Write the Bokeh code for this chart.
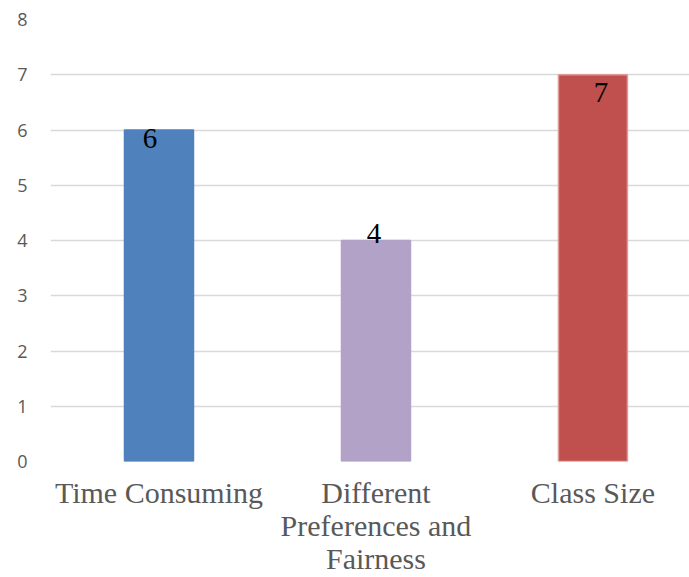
from bokeh.plotting import figure
from bokeh.models import Range1d, FixedTicker, ColumnDataSource
from bokeh.core.properties import value
from bokeh.embed import file_html
from bokeh.resources import INLINE

categories = ["Time Consuming", "Different\nPreferences and\nFairness", "Class Size"]
counts = [6, 4, 7]
colors = ["#4F81BD", "#B3A2C7", "#C0504D"]
outline_colors = ["#4F81BD", "#B3A2C7", "#E09A98"]
y_ticks = [0, 1, 2, 3, 4, 5, 6, 7, 8]

# label offsets (style only)
label_dx = [-9, -2, 8]
label_dy = [8, -7, 18]

xs = list(range(len(categories)))

p = figure(width=689, height=577, output_backend="svg", toolbar_location=None,
           x_range=Range1d(-0.5, 2.445), y_range=Range1d(0, 8),
           min_border_left=50, min_border_right=0, min_border_top=19, min_border_bottom=116)
p.outline_line_color = None
p.background_fill_color = "white"
p.border_fill_color = "white"

src = ColumnDataSource(dict(x=xs, top=counts, color=colors, lc=outline_colors,
                            label=[str(c) for c in counts], dx=label_dx, dy=label_dy))
p.vbar(x="x", top="top", bottom=0, width=0.318, fill_color="color", line_color="lc",
       line_width=1.5, source=src)
p.text(x="x", y="top", text="label", x_offset="dx", y_offset="dy", source=src,
       text_align="center", text_baseline="alphabetic", text_color="black",
       text_font=value("Liberation Serif"), text_font_size="29px")

p.xgrid.grid_line_color = None
p.ygrid.grid_line_color = "#D9D9D9"
p.ygrid.grid_line_width = 1.5
p.ygrid.ticker = FixedTicker(ticks=y_ticks)

ya = p.yaxis[0]
ya.ticker = FixedTicker(ticks=y_ticks)
ya.axis_line_color = None
ya.major_tick_line_color = None
ya.minor_tick_line_color = None
ya.major_tick_out = 0
ya.major_tick_in = 0
ya.minor_tick_out = 0
ya.major_label_standoff = 23
ya.major_label_text_font = "Open Sans"
ya.major_label_text_font_size = "18px"
ya.major_label_text_color = "#595959"

xa = p.xaxis[0]
xa.ticker = FixedTicker(ticks=xs)
xa.major_label_overrides = {i: c for i, c in zip(xs, categories)}
xa.axis_line_color = None
xa.major_tick_line_color = None
xa.minor_tick_line_color = None
xa.major_tick_out = 0
xa.major_tick_in = 0
xa.minor_tick_out = 0
xa.major_label_standoff = 14
xa.major_label_text_font = "Liberation Serif"
xa.major_label_text_font_size = "30px"
xa.major_label_text_color = "#595959"
xa.major_label_text_line_height = 1.0

open("out.html", "w").write(file_html(p, INLINE))
